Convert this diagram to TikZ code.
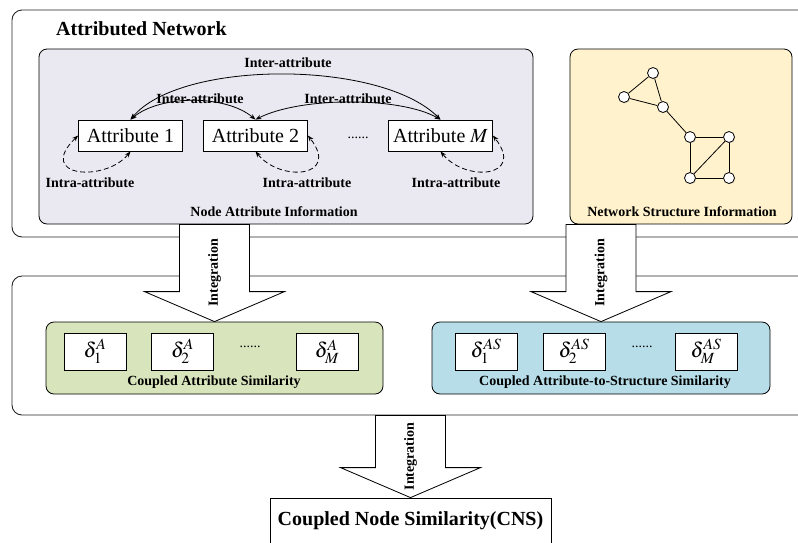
\documentclass[tikz,border=0pt]{standalone}
\usepackage{mathptmx}
\usepackage{fontspec}
\setmainfont{Liberation Serif}
\usetikzlibrary{arrows.meta,calc,shadows}

\definecolor{purplebg}{RGB}{234,232,240}
\definecolor{yellowbg}{RGB}{255,242,204}
\definecolor{greenbg}{RGB}{216,228,188}
\definecolor{bluebg}{RGB}{183,222,232}

% block arrow from the y of #1 down to the top of node #2
\newcommand{\integarrow}[2]{%
	\draw[block] let \p1=(#2.north), \p2=(#1) in
		(\x1-35pt,\y2) -- (\x1-35pt,\y1+30pt) -- (\x1-70pt,\y1+30pt) -- (\x1,\y1)
		-- (\x1+70pt,\y1+30pt) -- (\x1+35pt,\y1+30pt) -- (\x1+35pt,\y2) -- cycle;
	\path let \p1=(#2.north), \p2=(#1) in
		node[lbl, rotate=90] at (\x1,{(\y1+\y2)/2}) {Integration};
}

\begin{document}
\begin{tikzpicture}[x=1pt, y=-1pt, >={Stealth[length=6pt,width=4.5pt]}]
			\tikzstyle{outer}  = [draw=black!85, line width=0.9pt, rounded corners=10pt]
			\tikzstyle{panel}  = [draw=black, line width=0.8pt, rounded corners=8pt]
			\tikzstyle{attr}   = [draw=black, fill=white, line width=0.8pt, minimum width=104, minimum height=31, inner sep=0pt, font=\fontsize{20}{24}\selectfont]
			\tikzstyle{sim}    = [draw=black, fill=white, line width=0.8pt, minimum width=62, minimum height=37, inner sep=0pt, font=\fontsize{21}{24}\selectfont]
			\tikzstyle{lbl}    = [inner sep=0pt, font=\bfseries\fontsize{14}{16}\selectfont]
			\tikzstyle{dots}   = [inner sep=0pt, font=\fontsize{14}{16}\selectfont]
			\tikzstyle{vertex} = [circle, minimum size=11pt, inner sep=0pt, draw=black, fill=white, line width=0.8pt, drop shadow={opacity=0.25, shadow xshift=0.8pt, shadow yshift=-0.8pt}]
			\tikzstyle{inter}  = [<->, line width=0.8pt]
			\tikzstyle{intra}  = [<->, dash pattern=on 5pt off 3pt, line width=0.8pt]
			\tikzstyle{block}  = [draw=black, fill=white, line width=0.8pt]

			\useasboundingbox (0,0) rectangle (798,542);

			\node[outer, minimum width=798, minimum height=227] (net) at (411,123.5) {};
			\node[outer, minimum width=798, minimum height=139] (mid) at (411,345.5) {};
			\node[lbl, anchor=west, font=\bfseries\fontsize{20}{24}\selectfont] (title) at (56,29) {Attributed Network};

			\node[panel, fill=purplebg, minimum width=494, minimum height=175] (nai) at (286,136.5) {};
			\node[panel, fill=yellowbg, minimum width=222, minimum height=175] (nsi) at (681,136.5) {};

			\node[attr] (a1) at (130.5,135.5) {Attribute 1};
			\node[attr] (a2) at (255.5,135.5) {Attribute 2};
			\node[attr] (aM) at (440.5,135.5) {Attribute $M$};
			\node[dots] (adots) at (358,138) {......};

			\node[lbl] (inter0) at (288,63) {Inter-attribute};
			\node[lbl] (inter1) at (200,99) {Inter-attribute};
			\node[lbl] (inter2) at (348,99) {Inter-attribute};
			\draw[inter] (a1.north) .. controls +(50,-60) and +(-60,-60) .. (aM.north);
			\draw[inter] (a1.north) .. controls +(30,-25) and +(-30,-25) .. (a2.north);
			\draw[inter] (a2.north) .. controls +(45,-23) and +(-40,-23) .. (aM.north);

			\draw[intra] (a1.south) .. controls +(-25,31) and +(-43,42) .. (a1.west);
			\foreach \n in {a2, aM}
				\draw[intra] (\n.south) .. controls +(25,31) and +(33,42) .. (\n.east);
			\foreach \name/\x in {intra1/90, intra2/307, intraM/456}
				\node[lbl] (\name) at (\x,183) {Intra-attribute};

			\node[lbl] (naitext) at (274,212) {Node Attribute Information};

			\foreach \name/\x/\y in {g1/653/73, g2/624/97, g3/663/107, g4/690/137, g5/729/137, g6/690/178, g7/729/178}
				\node[vertex] (\name) at (\x,\y) {};
			\foreach \from/\to in {g1/g2, g2/g3, g3/g1, g3/g4, g4/g5, g4/g6, g5/g7, g6/g7, g6/g5}
				\draw[line width=0.8pt] (\from) -- (\to);
			\node[lbl] (nsitext) at (682,212) {Network Structure Information};

			\node[panel, fill=greenbg, minimum width=337, minimum height=72] (cas) at (214.5,358) {};
			\node[panel, fill=bluebg, minimum width=338, minimum height=72] (cass) at (601,358) {};

			\foreach \name/\x/\sub in {s1/95/1, s2/182.5/2, sM/327/M}
				\node[sim] (\name) at (\x,351.5) {$\delta_{\sub}^{A}$};
			\foreach \name/\x/\sub in {t1/486/1, t2/574/2, tM/706/M}
				\node[sim] (\name) at (\x,351.5) {$\delta_{\sub}^{AS}$};
			\node[dots] (sdots) at (250,347) {......};
			\node[dots] (tdots) at (642,347) {......};
			\node[lbl] (castext) at (214,382) {Coupled Attribute Similarity};
			\node[lbl] (casstext) at (605,382) {Coupled Attribute-to-Structure Similarity};

			\node[draw=black, line width=0.8pt, minimum width=281, minimum height=46, inner sep=0pt, font=\bfseries\fontsize{20}{24}\selectfont] (cns) at (410.5,521) {Coupled Node Similarity(CNS)};

			\integarrow{nai.south}{cas}
			\integarrow{nsi.south}{cass}
			\integarrow{mid.south}{cns}
		\end{tikzpicture}
\end{document}
